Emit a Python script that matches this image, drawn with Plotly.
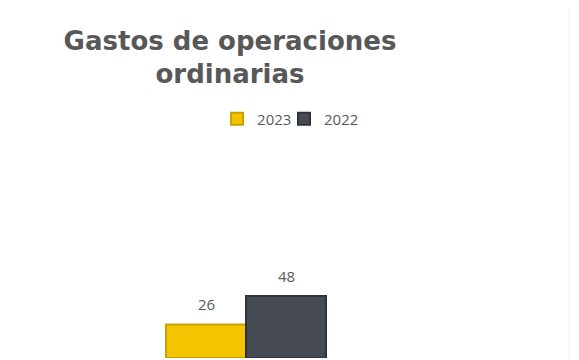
import plotly.graph_objects as go

categories = ["Gastos de operaciones ordinarias"]
series_names = ["2023", "2022"]
values_2023 = [26]
values_2022 = [48]
colors = ["#f4c400", "#464a53"]
edge_colors = ["#c8a000", "#30333a"]

fig = go.Figure()
legend_ids = ["legend", "legend2"]
for name, vals, c, ec, lg in zip(series_names, [values_2023, values_2022], colors, edge_colors, legend_ids):
    fig.add_trace(go.Bar(
        x=categories, y=vals, name=name, legend=lg,
        marker=dict(color=c, line=dict(color=ec, width=2)),
        hoverinfo="skip",
    ))

# value labels, anchored to data through the axes
for vals, shift in zip([values_2023, values_2022], [-40, 40]):
    for cat, v in zip(categories, vals):
        fig.add_annotation(x=cat, y=v, text=str(v), showarrow=False,
                           xshift=shift, yshift=8, yanchor="bottom",
                           font=dict(family="Open Sans", size=15, color="#595959"))

legend_font = dict(family="Open Sans", size=15, color="#595959")
fig.update_layout(
    width=571, height=352,
    paper_bgcolor="white", plot_bgcolor="rgba(0,0,0,0)",
    margin=dict(l=78, r=173, t=132, b=2, autoexpand=False),
    barmode="group", bargap=0.5, bargroupgap=0,
    showlegend=True,
    legend=dict(orientation="h", x=0.4096, xanchor="left", y=1.096, yanchor="middle",
                font=legend_font, bgcolor="rgba(0,0,0,0)"),
    legend2=dict(orientation="h", x=0.6188, xanchor="left", y=1.096, yanchor="middle",
                 font=legend_font, bgcolor="rgba(0,0,0,0)"),
    title=dict(text="Gastos de operaciones<br>ordinarias", x=0.3888, xanchor="center",
               xref="container", yref="container", y=0.882, yanchor="top",
               font=dict(family="DejaVu Sans", size=26, color="#585858", weight="bold")),
    xaxis=dict(visible=False, type="category", range=[-0.5, 0.5]),
    yaxis=dict(visible=False, range=[0, 169]),
    shapes=[dict(type="rect", xref="paper", yref="paper", x0=482/320, x1=500/320,
                 y0=-0.1, y1=1.7, fillcolor="#f9f9f9", line=dict(width=0), layer="below")],
)
fig.write_html("out.html")
